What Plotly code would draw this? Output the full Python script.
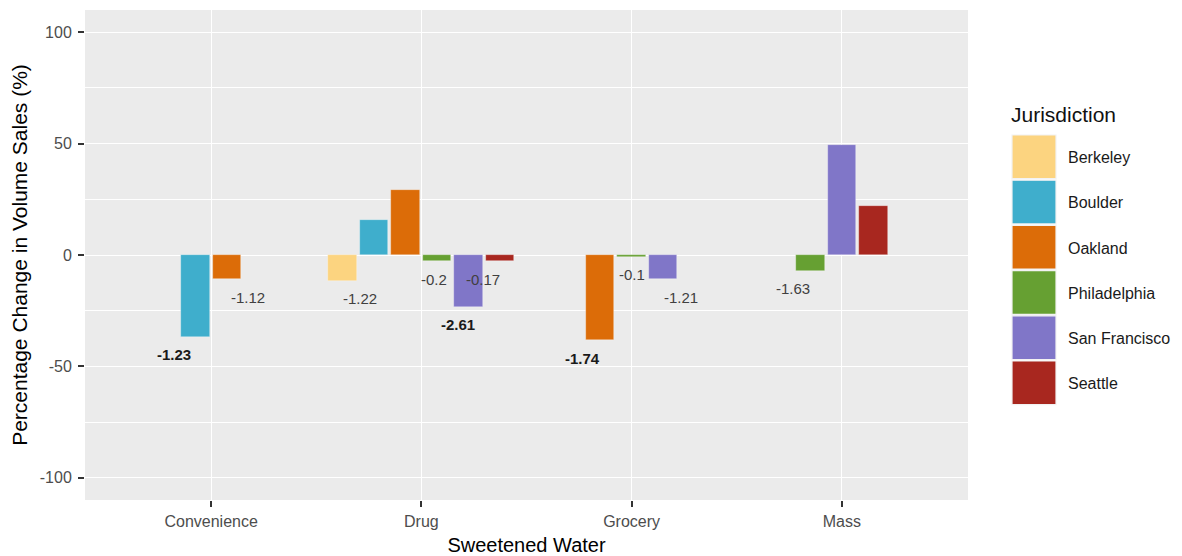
import plotly.graph_objects as go

# ---------------- data ----------------
categories = ["Convenience", "Drug", "Grocery", "Mass"]
jurisdictions = ["Berkeley", "Boulder", "Oakland", "Philadelphia", "San Francisco", "Seattle"]
colors = ["#FCD480", "#3FAECC", "#DC6C08", "#66A032", "#8076C8", "#A8271F"]
y_ticks = [-100, -50, 0, 50, 100]
y_tick_labels = ["-100", "-50", "0", "50", "100"]

berkeley = [None, -11.6, None, None]
boulder = [-36.8, 15.8, None, None]
oakland = [-10.8, 29.3, -38.3, None]
philadelphia = [None, -2.7, -0.8, -7.1]
san_francisco = [None, -23.3, -10.8, 49.5]
seattle = [None, -2.8, None, 22.1]

berkeley_lab = [None, "-1.22", None, None]
boulder_lab = ["-1.23", None, None, None]
oakland_lab = ["-1.12", None, "-1.74", None]
philadelphia_lab = [None, "-0.2", "-0.1", "-1.63"]
san_francisco_lab = [None, "-2.61", "-1.21", None]
seattle_lab = [None, "-0.17", None, None]

berkeley_sig = [False, False, False, False]
boulder_sig = [True, False, False, False]
oakland_sig = [False, False, True, False]
philadelphia_sig = [False, False, False, False]
san_francisco_sig = [False, True, False, False]
seattle_sig = [False, False, False, False]

values = [berkeley, boulder, oakland, philadelphia, san_francisco, seattle]
labels = [berkeley_lab, boulder_lab, oakland_lab, philadelphia_lab, san_francisco_lab, seattle_lab]
sigs = [berkeley_sig, boulder_sig, oakland_sig, philadelphia_sig, san_francisco_sig, seattle_sig]

# ---------------- layout constants ----------------
W, H = 1182, 556
ML, MR, MT, MB = 85, 214, 10, 56
PW, PH = W - ML - MR, H - MT - MB
FONT = "Liberation Sans, Arial, Helvetica, sans-serif"

bar_dodge = 0.9          # position_dodge2(preserve = "single")
bar_pad = 0.1
label_dodge = 0.7        # position_dodge(width = 0.7) for text
slot = bar_dodge / len(jurisdictions)

fig = go.Figure()

present = [[j for j in range(len(jurisdictions)) if values[j][c] is not None]
           for c in range(len(categories))]

annotations = []
for j, name in enumerate(jurisdictions):
    xs, ys = [], []
    for c in range(len(categories)):
        v = values[j][c]
        if v is None:
            continue
        grp = present[c]
        n = len(grp)
        k = grp.index(j)
        xs.append(c - n * slot / 2 + (k + 0.5) * slot)
        ys.append(v)
        lab = labels[j][c]
        if lab is not None:
            lw = label_dodge / n
            lx = c - label_dodge / 2 + (k + 0.5) * lw
            bold = sigs[j][c]
            txt = f"<b>{lab}</b>" if bold else lab
            annotations.append(dict(
                x=lx, y=v, xref="x", yref="y", text=txt, showarrow=False,
                yanchor="middle", xanchor="center", yshift=-18,
                font=dict(family=FONT, size=15, color="#1a1a1a" if bold else "#404040")))
    fig.add_trace(go.Bar(
        x=xs, y=ys, name=name, width=slot * (1 - bar_pad),
        marker=dict(color=colors[j], line=dict(color="rgba(255,255,255,0.5)", width=0.6)),
        showlegend=False))

# ---------------- custom ggplot-style legend ----------------
def px_x(p):
    return (p - ML) / PW

def px_y(p):
    return (H - MB - p) / PH

shapes = []
key_left, key_w, key_top, key_h = 1012, 44, 135, 45.2
annotations.append(dict(
    x=px_x(1009), y=px_y(114), xref="paper", yref="paper", text="Jurisdiction",
    showarrow=False, xanchor="left", yanchor="middle",
    font=dict(family=FONT, size=21, color="#111111")))
for j, name in enumerate(jurisdictions):
    t = key_top + j * key_h
    shapes.append(dict(
        type="rect", xref="paper", yref="paper",
        x0=px_x(key_left), x1=px_x(key_left + key_w),
        y0=px_y(t + key_h - 1.5), y1=px_y(t),
        fillcolor=colors[j], line=dict(color="#F2F2F2", width=1.2), layer="above"))
    annotations.append(dict(
        x=px_x(1066), y=px_y(t + key_h / 2), xref="paper", yref="paper", text=name,
        showarrow=False, xanchor="left", yanchor="middle",
        font=dict(family=FONT, size=16, color="#1a1a1a")))

fig.update_layout(
    width=W, height=H,
    margin=dict(l=ML, r=MR, t=MT, b=MB, pad=0, autoexpand=False),
    paper_bgcolor="white", plot_bgcolor="#EBEBEB",
    barmode="overlay", bargap=0,
    font=dict(family=FONT),
    annotations=annotations, shapes=shapes,
    xaxis=dict(
        range=[-0.6, len(categories) - 0.4], tickmode="array",
        tickvals=list(range(len(categories))), ticktext=categories,
        showgrid=True, gridcolor="white", gridwidth=1.4, zeroline=False,
        ticks="outside", ticklen=6, tickwidth=1.5, tickcolor="#333333",
        ticklabelstandoff=1, automargin=False,
        tickfont=dict(family=FONT, size=16, color="#4D4D4D"),
        title=dict(text="Sweetened Water", font=dict(family=FONT, size=20, color="black"), standoff=11),
        showline=False, fixedrange=True),
    yaxis=dict(
        range=[-110, 110], tickmode="array", tickvals=y_ticks, ticktext=y_tick_labels,
        showgrid=True, gridcolor="white", gridwidth=1.4, zeroline=False,
        minor=dict(tickvals=[-75, -25, 25, 75], showgrid=True, gridcolor="white", gridwidth=0.6, ticks=""),
        ticks="outside", ticklen=6, tickwidth=1.5, tickcolor="#333333",
        ticklabelstandoff=3, automargin=False,
        tickfont=dict(family=FONT, size=16, color="#4D4D4D"),
        title=dict(text="Percentage Change in Volume Sales (%)", font=dict(family=FONT, size=21, color="black"), standoff=6),
        showline=False, fixedrange=True),
)

fig.write_html("out.html", config={"displayModeBar": False},
               post_script="document.body.style.margin='0';document.body.style.overflow='hidden';")
